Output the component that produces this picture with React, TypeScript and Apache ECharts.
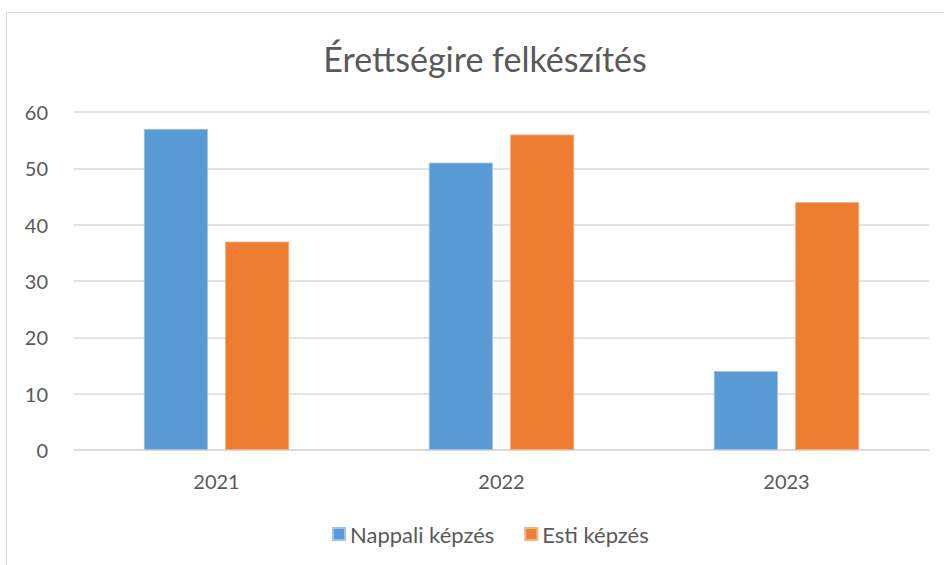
import React, { useEffect, useRef } from "react";
import * as echarts from "echarts";

const title = "Érettségire felkészítés";
const categories = ["2021", "2022", "2023"];
const seriesNames = ["Nappali képzés", "Esti képzés"];
const nappali = [57, 51, 14];
const esti = [37, 56, 44];
const yMin = 0;
const yMax = 60;
const yInterval = 10;

const FONT = "Lato, 'Open Sans', sans-serif";
const TEXT = "#595959";

export default function App() {
  const ref = useRef<HTMLDivElement>(null);
  useEffect(() => {
    if (!ref.current) return;
    const chart = echarts.init(ref.current, null, { renderer: "svg" });
    chart.setOption({
      animation: false,
      backgroundColor: "#ffffff",
      textStyle: { fontFamily: FONT },
      title: {
        text: title,
        left: 480,
        textAlign: "center",
        top: 36,
        textStyle: { fontFamily: FONT, fontSize: 34, fontWeight: "normal", color: TEXT },
      },
      graphic: [
        {
          type: "rect",
          shape: { x: 6.5, y: 12.5, width: 960, height: 600 },
          style: { fill: "none", stroke: "#d9d9d9", lineWidth: 1 },
          silent: true,
        },
      ],
      legend: {
        bottom: 15,
        left: 327,
        itemWidth: 12,
        itemHeight: 12,
        itemGap: 30,
        icon: "rect",
        textStyle: { fontFamily: FONT, fontSize: 22, color: TEXT },
        data: seriesNames,
      },
      grid: { left: 74, right: 15, top: 112, bottom: 115, containLabel: false },
      xAxis: {
        type: "category",
        data: categories,
        axisLine: { show: true, lineStyle: { color: "#d9d9d9", width: 1.5 } },
        axisTick: { show: false },
        axisLabel: { fontFamily: FONT, fontSize: 20, color: TEXT, margin: 21 },
      },
      yAxis: {
        type: "value",
        min: yMin,
        max: yMax,
        interval: yInterval,
        axisLine: { show: false },
        axisTick: { show: false },
        axisLabel: { fontFamily: FONT, fontSize: 20, color: TEXT, margin: 26 },
        splitLine: { lineStyle: { color: "#d9d9d9", width: 1.5 } },
      },
      series: [
        {
          name: seriesNames[0],
          type: "bar",
          data: nappali,
          barWidth: 64,
          barGap: "27%",
          itemStyle: { color: "#5B9BD5", borderColor: "#9dc3e6", borderWidth: 0.8 },
        },
        {
          name: seriesNames[1],
          type: "bar",
          data: esti,
          barWidth: 64,
          itemStyle: { color: "#ED7D31", borderColor: "#f4b183", borderWidth: 0.8 },
        },
      ],
    });
    return () => chart.dispose();
  }, []);
  return (
    <div
      ref={ref}
      style={{ position: "fixed", left: 0, top: 0, width: 944, height: 565 }}
    />
  );
}
